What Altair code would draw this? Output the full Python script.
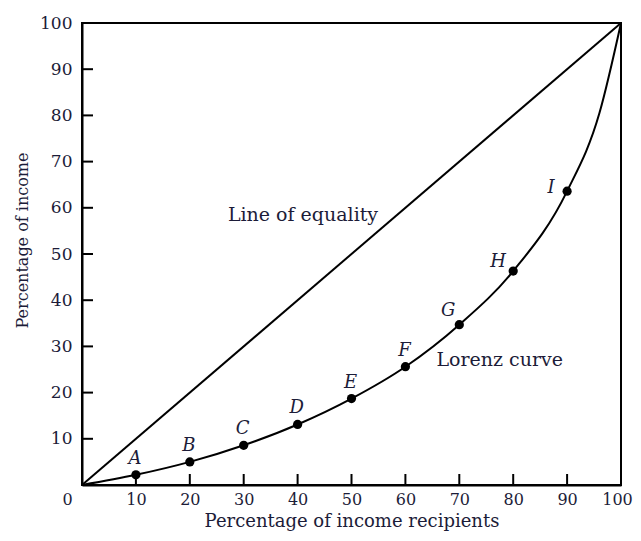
import altair as alt
import pandas as pd

# data
recipients = [10, 20, 30, 40, 50, 60, 70, 80, 90]
income = [2.2, 5.0, 8.6, 13.1, 18.7, 25.6, 34.7, 46.3, 63.6]
letters = ["A", "B", "C", "D", "E", "F", "G", "H", "I"]
curve_x = [0, 10, 20, 30, 40, 50, 60, 70, 80, 90, 96, 100]
curve_y = [0, 2.2, 5.0, 8.6, 13.1, 18.7, 25.6, 34.7, 46.3, 63.6, 80.5, 100]
equality_x = [0, 100]
equality_y = [0, 100]
tick_values = [10, 20, 30, 40, 50, 60, 70, 80, 90]
x_labels = [0, 10, 20, 30, 40, 50, 60, 70, 80, 90, 100]
y_labels = [10, 20, 30, 40, 50, 60, 70, 80, 90, 100]
annotations = ["Line of equality", "Lorenz curve"]
ann_x = [41, 77.5]
ann_y = [58.4, 27]

W, H = 539, 462
SERIF = "DejaVu Serif"
TXT = "#1c1c38"

pts = pd.DataFrame({"x": recipients, "y": income, "label": letters})
curve = pd.DataFrame({"x": curve_x, "y": curve_y})
eq = pd.DataFrame({"x": equality_x, "y": equality_y})
xt = pd.DataFrame({"x": tick_values})
yt = pd.DataFrame({"y": tick_values})
ann = pd.DataFrame({"x": ann_x, "y": ann_y, "t": annotations})

xs = alt.Scale(domain=[0, 100], nice=False, zero=False)
ys = alt.Scale(domain=[0, 100], nice=False, zero=False)

xaxis = alt.Axis(values=x_labels, ticks=False, tickSize=0, grid=False,
                 domainColor="black", domainWidth=2,
                 labelFont=SERIF, labelFontSize=16, labelColor=TXT,
                 labelPadding=6, labelFlush=False,
                 labelOffset=alt.ExprRef(expr="datum.value == 0 ? -15 : (datum.value == 100 ? -4 : 0)"),
                 title="Percentage of income recipients",
                 titleFont=SERIF, titleFontSize=18, titleFontWeight="normal",
                 titleColor=TXT, titleBaseline="alphabetic", titleY=41)
yaxis = alt.Axis(values=y_labels, ticks=False, tickSize=0, grid=False,
                 domainColor="black", domainWidth=2,
                 labelFont=SERIF, labelFontSize=17, labelColor=TXT,
                 labelPadding=10, labelFlush=False,
                 title="Percentage of income",
                 titleFont=SERIF, titleFontSize=16, titleFontWeight="normal",
                 titleColor=TXT, titlePadding=9, titleY=217)

X = alt.X("x:Q", scale=xs, axis=xaxis, title="Percentage of income recipients")
Y = alt.Y("y:Q", scale=ys, axis=yaxis, title="Percentage of income")

eq_line = alt.Chart(eq).mark_line(color="black", strokeWidth=2).encode(x=X, y=Y)

lorenz = alt.Chart(curve).mark_line(color="black", strokeWidth=2, interpolate="monotone").encode(x=X, y=Y)

dots = alt.Chart(pts).mark_circle(color="black", opacity=1, size=85).encode(x=X, y=Y)

def letter_layer(sel, dx, dy):
    return alt.Chart(pts).transform_filter(
        alt.FieldOneOfPredicate(field="label", oneOf=sel)
    ).mark_text(font=SERIF, fontStyle="italic", fontSize=18, color=TXT,
                dx=dx, dy=dy, align="center", baseline="middle").encode(
        x=X, y=Y, text="label:N",
    )

lab1 = letter_layer(["A", "B", "C", "D", "E", "F"], -1, -16)
lab2 = letter_layer(["G"], -11, -14)
lab3 = letter_layer(["H"], -15, -9)
lab4 = letter_layer(["I"], -16, -3)

ann_text = alt.Chart(ann).mark_text(font=SERIF, fontSize=19, color=TXT).encode(
    x=X, y=Y, text="t:N",
)

xticks = alt.Chart(xt).mark_rule(color="black", strokeWidth=2).encode(
    x=X,
    y=alt.value(H),
    y2=alt.value(H - 11),
)
yticks = alt.Chart(yt).mark_rule(color="black", strokeWidth=2).encode(
    y=Y,
    x=alt.value(0),
    x2=alt.value(11),
)

chart = alt.layer(eq_line, lorenz, dots, lab1, lab2, lab3, lab4, ann_text, xticks, yticks).properties(
    width=W, height=H,
    background="white",
    autosize=alt.AutoSizeParams(type="none"),
    padding={"left": 74, "top": 15, "right": 12, "bottom": 48},
).configure_view(stroke="black", strokeWidth=2)

chart.save("out.html", embed_options={"renderer": "svg", "actions": False})
